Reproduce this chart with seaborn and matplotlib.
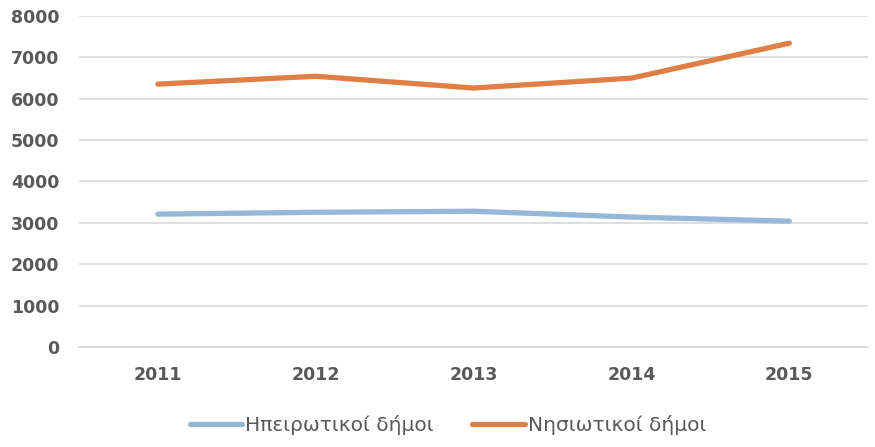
import matplotlib
matplotlib.use("Agg")
import matplotlib.pyplot as plt
import seaborn as sns
import pandas as pd

years = ["2011", "2012", "2013", "2014", "2015"]
mainland = [3210, 3255, 3280, 3140, 3040]
islands = [6355, 6545, 6260, 6500, 7345]
series_names = ["Ηπειρωτικοί δήμοι", "Νησιωτικοί δήμοι"]

df = pd.DataFrame({
    "year": years * 2,
    "value": mainland + islands,
    "series": [series_names[0]] * len(years) + [series_names[1]] * len(years),
})

sns.set_theme(style="white")
plt.rcParams["font.family"] = ["DejaVu Sans"]

fig = plt.figure(figsize=(8.75, 4.47), dpi=100)
ax = fig.add_axes([0.0903, 0.224, 0.902, 0.740])

palette = {series_names[0]: "#95b8d8", series_names[1]: "#e07f45"}
sns.lineplot(data=df, x="year", y="value", hue="series", palette=palette,
             linewidth=3.8, solid_capstyle="round", sort=False, ax=ax, legend=False)

ax.set_ylim(0, 8000)
ax.set_yticks(range(0, 8001, 1000))
ax.set_xlim(-0.5, 4.5)
ax.yaxis.grid(True, color="#d9d9d9", linewidth=1.2)
ax.set_axisbelow(True)
for s in ax.spines.values():
    s.set_visible(False)
ax.spines["bottom"].set_visible(True)
ax.spines["bottom"].set_color("#d9d9d9")
ax.spines["bottom"].set_linewidth(1.2)
ax.set_xlabel("")
ax.set_ylabel("")
ax.tick_params(axis="both", length=0, labelsize=12.5, labelcolor="#595959")
ax.tick_params(axis="x", pad=14)
ax.tick_params(axis="y", pad=14)
for lab in ax.get_xticklabels() + ax.get_yticklabels():
    lab.set_fontweight("bold")

handles = [plt.Line2D([], [], color=palette[n], linewidth=3.8, solid_capstyle="round") for n in series_names]
fig.legend(handles, series_names, loc="center", bbox_to_anchor=(0.512, 0.049), ncol=2,
           frameon=False, fontsize=14.5, labelcolor="#595959", handlelength=2.6,
           handletextpad=0.15, columnspacing=1.9)

fig.savefig("out.png", dpi=100)
